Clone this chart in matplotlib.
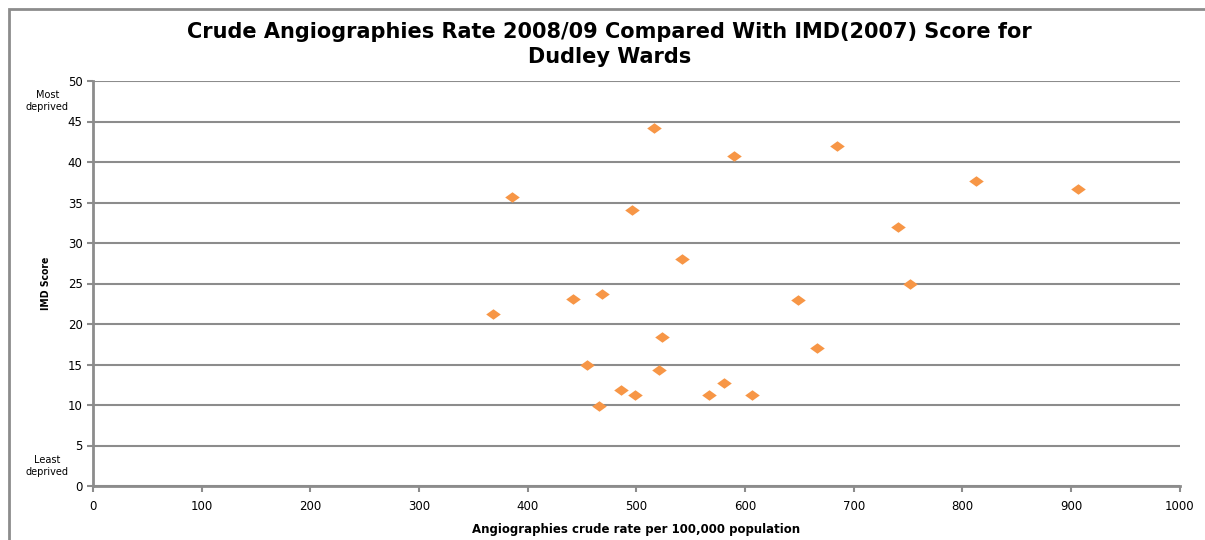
import matplotlib
matplotlib.use("Agg")
import matplotlib.pyplot as plt
from matplotlib.patches import Rectangle

# crude angiography rate per 100,000 vs IMD 2007 score, Dudley wards
rate = [516, 590, 685, 813, 906, 386, 496, 741, 542, 752, 442, 468,
        649, 368, 524, 666, 455, 521, 581, 486, 499, 567, 606, 466]
imd = [44.2, 40.7, 42.0, 37.6, 36.7, 35.7, 34.1, 32.0, 28.0, 25.0, 23.1, 23.7,
       23.0, 21.2, 18.4, 17.0, 14.9, 14.3, 12.7, 11.9, 11.2, 11.2, 11.2, 9.9]

xticks = list(range(0, 1001, 100))
yticks = list(range(0, 51, 5))

fig = plt.figure(figsize=(12.05, 5.4), dpi=100)
fig.patches.append(Rectangle((0.0075, -0.1), 1.1, 1.083, transform=fig.transFigure,
                             fill=False, edgecolor="#8c8c8c", linewidth=2))

ax = fig.add_axes([0.0772, 0.1, 0.9018, 0.75])

diamond = [(-1, 0), (0, 0.72), (1, 0), (0, -0.72), (-1, 0)]
ax.plot(rate, imd, linestyle="none", marker=diamond, markersize=10.5,
        color="#F79646", markeredgewidth=0)

ax.set_xlim(0, 1000)
ax.set_ylim(0, 50)
ax.set_xticks(xticks)
ax.set_yticks(yticks)
ax.grid(axis="y", color="#8c8c8c", linewidth=1.5)
ax.set_axisbelow(True)
for s in ["top", "right"]:
    ax.spines[s].set_visible(False)
for s in ["left", "bottom"]:
    ax.spines[s].set_color("#8c8c8c")
    ax.spines[s].set_linewidth(2)
ax.tick_params(colors="#8c8c8c", labelcolor="black", length=4, width=1.5,
               labelsize=8.5)
ax.tick_params(axis="x", pad=6)

ax.text(-0.042, 0.95, "Most\ndeprived", transform=ax.transAxes, ha="center",
        va="center", fontsize=7, linespacing=1.3)
ax.text(-0.042, 0.05, "Least\ndeprived", transform=ax.transAxes, ha="center",
        va="center", fontsize=7, linespacing=1.3)

ax.set_xlabel("Angiographies crude rate per 100,000 population", fontsize=8.5,
              fontweight="bold", labelpad=7)
ax.set_ylabel("IMD Score", fontsize=7.5, fontweight="bold", labelpad=12,
              fontstretch="condensed")

fig.text(0.506, 0.918, "Crude Angiographies Rate 2008/09 Compared With IMD(2007) Score for\nDudley Wards",
         ha="center", va="center", fontsize=15, fontweight="bold",
         family=["DejaVu Sans"], linespacing=1.3)

fig.savefig("out.png", dpi=100)
